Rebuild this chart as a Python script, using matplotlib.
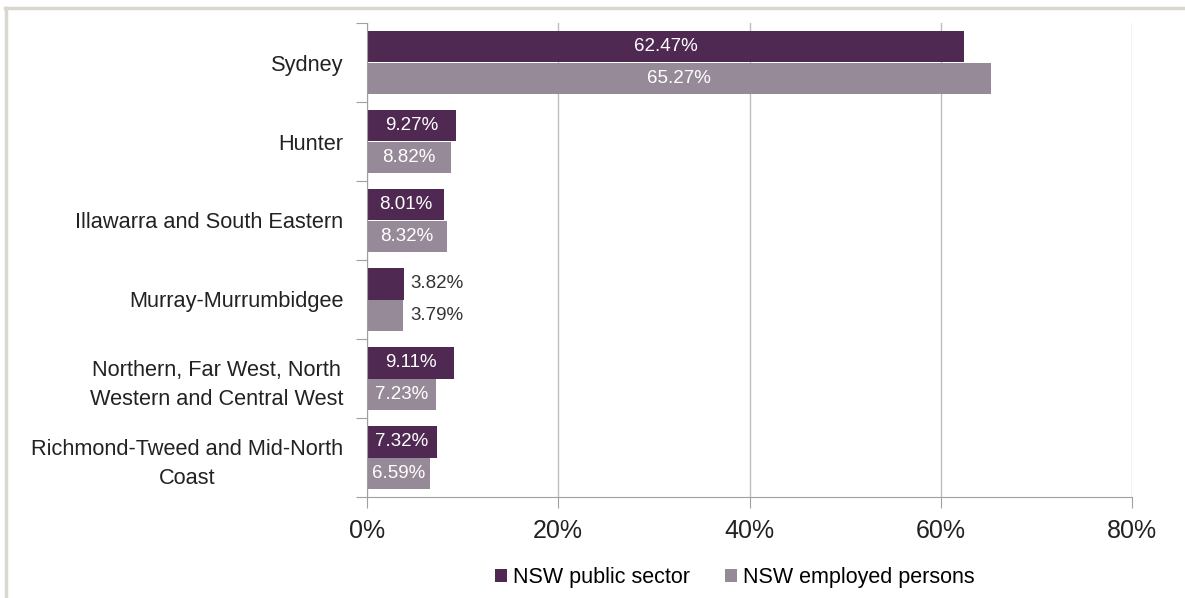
import matplotlib.pyplot as plt
from matplotlib.lines import Line2D
import numpy as np

plt.rcParams['font.family'] = ['Liberation Sans', 'DejaVu Sans']

regions = ['Sydney', 'Hunter', 'Illawarra and South Eastern', 'Murray-Murrumbidgee',
           'Northern, Far West, North\nWestern and Central West',
           'Richmond-Tweed and Mid-North\nCoast']
public_sector = [62.47, 9.27, 8.01, 3.82, 9.11, 7.32]
employed = [65.27, 8.82, 8.32, 3.79, 7.23, 6.59]
series_names = ['NSW public sector', 'NSW employed persons']

c_pub = '#4F2952'
c_emp = '#978A98'
grid_c = '#BDBDBD'
text_c = '#222222'

W, H = 1185, 598
fig = plt.figure(figsize=(W / 100, H / 100), dpi=100)
ax = fig.add_axes([367 / W, 101 / H, 765 / W, 474 / H])

y = np.arange(len(regions))
h = 0.4
b1 = ax.barh(y - h / 2, np.array(public_sector) / 100, height=h, color=c_pub, label=series_names[0])
b2 = ax.barh(y + h / 2, np.array(employed) / 100, height=h, color=c_emp, label=series_names[1])

for bars, vals in ((b1, public_sector), (b2, employed)):
    for bar, v in zip(bars, vals):
        cy = bar.get_y() + bar.get_height() / 2
        if v < 5:
            ax.annotate(f'{v:.2f}%', (bar.get_width(), cy), xytext=(5, 0), textcoords='offset points',
                        ha='left', va='center', fontsize=13.5, color='#333333')
        else:
            ax.text(bar.get_width() / 2, cy, f'{v:.2f}%', ha='center', va='center',
                    fontsize=13.5, color='white')

ax.set_xlim(0, 0.8)
ax.set_ylim(len(regions) - 0.5, -0.5)
ax.set_xticks([0, 0.2, 0.4, 0.6, 0.8])
ax.set_xticklabels(['0%', '20%', '40%', '60%', '80%'], fontsize=18, color=text_c)
ax.xaxis.grid(True, color=grid_c, linewidth=1)
ax.set_axisbelow(True)

# category separators as major ticks, names as minor ticks
ax.set_yticks(np.arange(len(regions) + 1) - 0.5)
ax.set_yticklabels([])
ax.set_yticks(y, minor=True)
ax.set_yticklabels(regions, minor=True, fontsize=15.7, color=text_c,
                   multialignment='center', linespacing=1.5)
ax.tick_params(axis='y', which='minor', length=0, pad=17)
ax.tick_params(axis='y', which='major', length=8, color='#A0A0A0', direction='out')
ax.tick_params(axis='x', length=8, color='#A0A0A0', pad=8)

for s in ['top', 'right']:
    ax.spines[s].set_visible(False)
for s in ['left', 'bottom']:
    ax.spines[s].set_color('#A0A0A0')

ax.legend(loc='center', bbox_to_anchor=(735 / W, 1 - 578 / H), bbox_transform=fig.transFigure,
          ncol=2, frameon=False, fontsize=15.5, handlelength=0.55, handleheight=0.55,
          handletextpad=0.3, columnspacing=1.6)

# outer frame (top and left edges only)
fig.add_artist(Line2D([5 / W, 1], [1 - 8 / H, 1 - 8 / H], transform=fig.transFigure,
                      color='#DAD8CE', linewidth=2.5))
fig.add_artist(Line2D([6 / W, 6 / W], [0, 1 - 8 / H], transform=fig.transFigure,
                      color='#DAD8CE', linewidth=2.5))

fig.savefig('out.png', dpi=100)
